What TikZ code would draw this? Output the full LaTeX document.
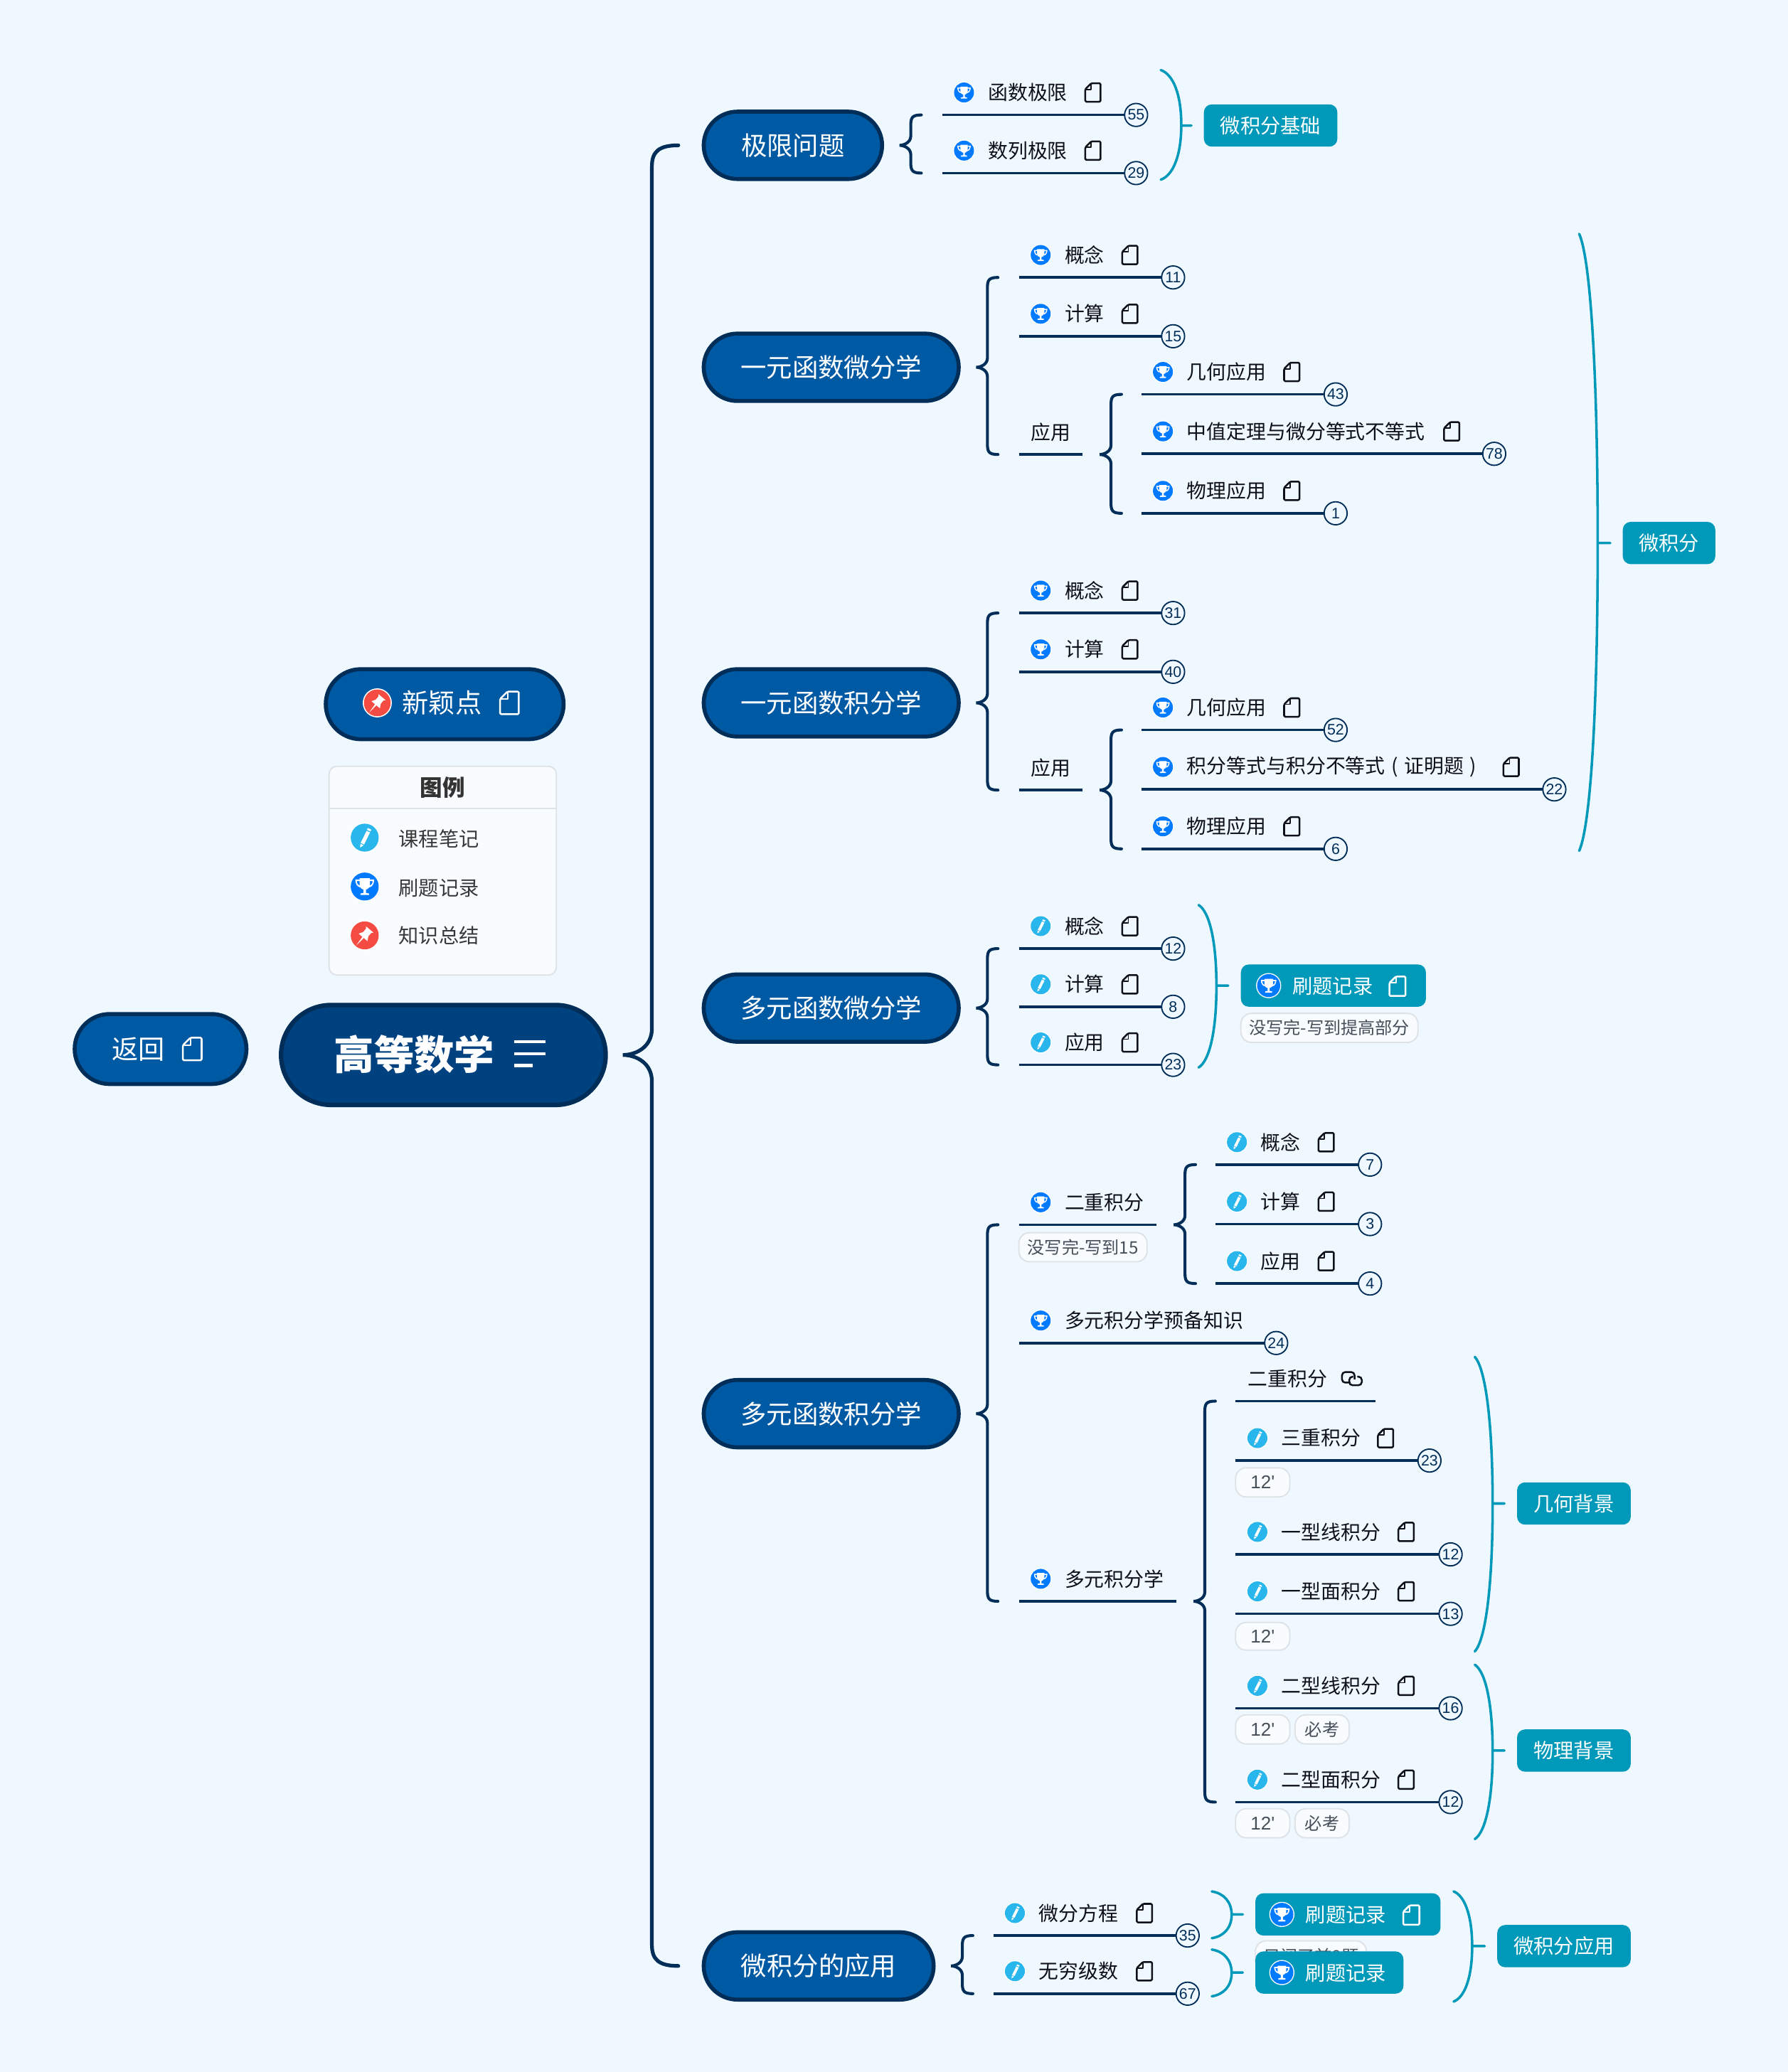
\documentclass[tikz,border=0pt]{standalone}
\usepackage{fontspec}
\setmainfont{Noto Sans CJK SC}
\newfontfamily\latinf{Liberation Sans}
\usetikzlibrary{calc}
\definecolor{bgc}{HTML}{F0F8FF}
\definecolor{navy}{HTML}{002E58}
\definecolor{rootc}{HTML}{004180}
\definecolor{pillc}{HTML}{0059A3}
\definecolor{tealc}{HTML}{0099B9}
\definecolor{trophyc}{HTML}{007AFF}
\definecolor{pencilc}{HTML}{29B6EC}
\definecolor{pinc}{HTML}{F44B42}
\definecolor{tagline}{HTML}{DDE2E6}
\definecolor{tagfill}{HTML}{F9FCFF}
\definecolor{tagtext}{HTML}{454F59}
\definecolor{inkc}{HTML}{0E1116}
\newcommand\fs[1]{\fontsize{#1}{#1}\selectfont}
\tikzset{
  x=1pt,y=-1pt,
  pillbase/.style={draw=navy,fill=pillc,text=white,outer sep=0pt,inner sep=0pt,font=\fs{19.6}},
  itemtext/.style={anchor=west,inner sep=0pt,text=inkc,font=\fs{15}},
  whitetext/.style={inner sep=0pt,text=white,font=\fs{15.2}},
  badgenode/.style={circle,draw=navy,fill=bgc,line width=1pt,minimum size=17.4pt,inner sep=0pt,outer sep=0pt,text=navy,font=\latinf\fs{11.5}},
  itemline/.style={draw=navy,line width=1.9pt},
  bracestyle/.style={draw=navy,line width=2.2pt,line cap=round},
  mainbrace/.style={draw=navy,line width=2.8pt,line cap=round},
  parenstyle/.style={draw=tealc,line width=1.9pt,line cap=round},
  summary/.style={fill=tealc,rounded corners=6pt,text=white,inner sep=0pt,outer sep=0pt,font=\fs{15.2}},
  tagbox/.style={draw=tagline,fill=tagfill,line width=1pt,rounded corners=8pt,inner sep=0pt,outer sep=0pt,text=tagtext,font=\fs{13}},
  noteicon/.pic={
    \draw[line width=1.35pt,line join=round,rounded corners=.8pt] (-5.8,-2.4) -- (-1.2,-7) -- (5.8,-7) -- (5.8,7) -- (-5.8,7) -- cycle;
    \draw[line width=1pt,line join=round] (-1.2,-7) -- (-1.2,-2.4) -- (-5.8,-2.4);
  },
  linkicon/.pic={
    \draw[line width=1.35pt,rounded corners=2.5pt] (-1,3.5) -- (-7.5,3.5) -- (-7.5,-4.5) -- (2,-4.5) -- (2,1);
    \draw[line width=1.35pt,rounded corners=2.5pt] (1,-1) -- (-2,-1) -- (-2,5.5) -- (7.5,5.5) -- (7.5,-1) -- (4,-1);
  },
  trophyicon/.pic={
    \fill[white] (0,0) circle[radius=10];
    \fill[trophyc] (0,0) circle[radius=9.2];
    \fill[white] (-3.4,-5.4) -- (3.4,-5.4) -- (3.4,-1.2) .. controls (3.4,0.8) and (1.8,1.8) .. (0.8,2) -- (0.8,4.2) -- (2.8,4.6) -- (2.8,5.6) -- (-2.8,5.6) -- (-2.8,4.6) -- (-0.8,4.2) -- (-0.8,2) .. controls (-1.8,1.8) and (-3.4,0.8) .. (-3.4,-1.2) -- cycle;
    \fill[white,even odd rule] (-6.2,-4.6) -- (-3,-4.6) -- (-3,-3.6) -- (-5.2,-3.6) .. controls (-5.2,-1.8) and (-4.2,-0.8) .. (-3,-0.4) -- (-3,0.6) .. controls (-5,0.2) and (-6.2,-1.8) .. (-6.2,-4.6) -- cycle;
    \fill[white,even odd rule] (6.2,-4.6) -- (3,-4.6) -- (3,-3.6) -- (5.2,-3.6) .. controls (5.2,-1.8) and (4.2,-0.8) .. (3,-0.4) -- (3,0.6) .. controls (5,0.2) and (6.2,-1.8) .. (6.2,-4.6) -- cycle;
  },
  pencilicon/.pic={
    \fill[white] (0,0) circle[radius=10];
    \fill[pencilc] (0,0) circle[radius=9.2];
    \fill[white] (4.3,-5.3) -- (2,-6.3) -- (1.5,-5.1) -- (3.8,-4.1) -- cycle;
    \fill[white] (3.5,-3.4) -- (1.2,-4.4) -- (-2.7,3.5) -- (-0.4,4.5) -- cycle;
    \fill[white] (-2.9,4.1) -- (-0.8,5) -- (-3,6.6) -- cycle;
  },
  pinicon/.pic={
    \fill[white] (0,0) circle[radius=10];
    \fill[pinc] (0,0) circle[radius=9.2];
    \begin{scope}[rotate=-40,yshift=-0.5pt]
    \fill[white] (-3.8,1.2) -- (3.8,1.2) -- (2.2,-1.6) -- (2.2,-4.4) -- (3.2,-5.6) -- (-3.2,-5.6) -- (-2.2,-4.4) -- (-2.2,-1.6) -- cycle;
    \fill[white] (-0.6,1) -- (0.6,1) -- (0,8.2) -- cycle;
    \end{scope}
  },
}
% id, icon, icon x, text, note x, line y, line start x, line end x, badge
\newcommand\tpc[9]{%
  \pic[scale=.82] at (#3,#6-17) {#2};
  \node[itemtext] (#1-t) at (#3+18,#6-17) {#4};
  \pic[inkc] at (#5,#6-17) {noteicon};
  \coordinate (#1-s) at (#7,#6);
  \node[badgenode] (#1-b) at (#8+8.7,#6) {#9};
  \draw[itemline] (#1-s) -- (#1-b);
}
% as \tpc, without the note icon: id, icon, icon x, text, line y, line start x, line end x, badge
\newcommand\tpcn[8]{%
  \pic[scale=.82] at (#3,#5-17) {#2};
  \node[itemtext] (#1-t) at (#3+18,#5-17) {#4};
  \coordinate (#1-s) at (#6,#5);
  \node[badgenode] (#1-b) at (#7+8.7,#5) {#8};
  \draw[itemline] (#1-s) -- (#1-b);
}
% id, text, text x, line y, line start, line end
\newcommand\plainitem[6]{%
  \node[itemtext] (#1-t) at (#3,#4-17) {#2};
  \coordinate (#1-s) at (#5,#4);
  \coordinate (#1-e) at (#6,#4);
  \draw[itemline] (#1-s) -- (#1-e);
}
% id, icon, icon x, text, line y, line start, line end
\newcommand\plainicon[7]{%
  \pic[scale=.82] at (#3,#5-17) {#2};
  \node[itemtext] (#1-t) at (#3+18,#5-17) {#4};
  \coordinate (#1-s) at (#6,#5);
  \coordinate (#1-e) at (#7,#5);
  \draw[itemline] (#1-s) -- (#1-e);
}
% parent, first, last
\newcommand\curly[3]{%
  \draw[bracestyle] let \p1=(#1),\p2=(#2),\p3=(#3),\n1={\x1+13.2pt},\n2={\n1+8.5pt},\n3={\n1+16.5pt} in
   (\n3,\y2) .. controls (\n2+1pt,\y2) and (\n2,\y2-2pt) .. (\n2,\y2-8pt) -- (\n2,\y1+7pt)
   .. controls (\n2,\y1+2pt) and (\n1+3pt,\y1) .. (\n1,\y1)
   .. controls (\n1+3pt,\y1) and (\n2,\y1-2pt) .. (\n2,\y1-7pt) -- (\n2,\y3+8pt)
   .. controls (\n2,\y3+2pt) and (\n2+1pt,\y3) .. (\n3,\y3);
}
% summary node, x, top y, bottom y, bulge (pt)
\newcommand\paren[5]{%
  \coordinate (#1-pt) at (#2,#3);
  \coordinate (#1-pb) at (#2,#4);
  \draw[parenstyle] let \p1=(#1-pt),\p2=(#1-pb),\p3=(#1.west),\n1={0.5*(\y1+\y2)},\n2={\x1+#5pt},\n3={\y1-\y2} in
   (\p1) .. controls (\x1+0.6*#5pt,\y1-0.04*\n3) and (\n2,\y1-0.22*\n3) .. (\n2,\n1)
   .. controls (\n2,\y2+0.22*\n3) and (\x1+0.6*#5pt,\y2+0.04*\n3) .. (\p2)
   (\n2,\y3) -- (\x3-9.5pt,\y3);
}
\newcommand\pillfill{pillc}
\newcommand\pill[7]{% id, x0, x1, y0, y1, lw, text
  \node[pillbase,fill=\pillfill,line width=#6pt,minimum width={#3-#2-#6},minimum height={#5-#4-#6},rounded corners={(#5-#4-#6)/2}] (#1) at ({(#2+#3)/2},{(#4+#5)/2}) {#7};
}
\newcommand\sumbox[6]{% id, x0, x1, y0, y1, text
  \node[summary,minimum width={#3-#2},minimum height={#5-#4}] (#1) at ({(#2+#3)/2},{(#4+#5)/2}) {#6};
}
\newcommand\tagn[6]{% id, x0, x1, y0, y1, text
  \node[tagbox,minimum width={#3-#2},minimum height={#5-#4}] (#1) at ({(#2+#3)/2},{(#4+#5)/2}) {#6};
}
\newcommand\tw{{\latinf\fs{14}12'}}
\begin{document}
\begin{tikzpicture}
\useasboundingbox (0,0) rectangle (1353,1568.3);
\fill[bgc] (0,0) rectangle (1353,1568.3);

% root and side pills
\renewcommand\pillfill{rootc}
\pill{root}{211}{460}{759}{838}{3.4}{}
\renewcommand\pillfill{pillc}
\node[inner sep=0pt,text=white,font=\fs{30.4}\bfseries] (roott) at (313.5,798) {高等数学};
\coordinate (rl1a) at (389,788.5); \coordinate (rl1b) at (413,788.5);
\coordinate (rl2a) at (389,797.5); \coordinate (rl2b) at (413,797.5);
\coordinate (rl3a) at (389,806.5); \coordinate (rl3b) at (403,806.5);
\draw[white,line width=2.4pt] (rl1a) -- (rl1b) (rl2a) -- (rl2b) (rl3a) -- (rl3b);

\pill{back}{55}{188}{766}{822}{3}{}
\node[inner sep=0pt,text=white,font=\fs{20}] (backt) at (104.5,794) {返回};
\pic[white,scale=1.22] at (145.5,794) {noteicon};

\pill{newp}{245}{428}{505}{561}{3}{}
\pic[scale=1.1] at (285.5,532) {pinicon};
\node[inner sep=0pt,text=white,font=\fs{20}] (newt) at (334.5,532) {新颖点};
\pic[white,scale=1.22] at (385.5,532) {noteicon};

% legend
\node[draw=tagline,fill=tagfill,line width=1pt,rounded corners=6pt,minimum width=172pt,minimum height=158pt,inner sep=0pt] (legend) at (335,659) {};
\coordinate (lda) at (249,612); \coordinate (ldb) at (421,612);
\draw[tagline,line width=1pt] (lda) -- (ldb);
\node[inner sep=0pt,text=black!80,font=\fs{17}\bfseries] (legt) at (335,596) {图例};
\pic[scale=1.15] at (276,634) {pencilicon};
\pic[scale=1.15] at (276,671) {trophyicon};
\pic[scale=1.15] at (276,708) {pinicon};
\node[itemtext,text=black!78,font=\fs{15.2}] (l1) at (301.5,635) {课程笔记};
\node[itemtext,text=black!78,font=\fs{15.2}] (l2) at (301.5,672) {刷题记录};
\node[itemtext,text=black!78,font=\fs{15.2}] (l3) at (301.5,708) {知识总结};

% main topics
\pill{t1}{531}{669}{83}{137}{3}{极限问题}
\pill{t2}{531}{727}{251}{305}{3}{一元函数微分学}
\pill{t3}{531}{727}{505}{559}{3}{一元函数积分学}
\pill{t4}{531}{727}{736}{790}{3}{多元函数微分学}
\pill{t5}{531}{727}{1043}{1097}{3}{多元函数积分学}
\pill{t6}{531}{708}{1461}{1515}{3}{微积分的应用}

% main brace
\draw[mainbrace] let \p1=(root.east),\p2=(t1.west),\p3=(t6.west),\n1={\x1+13pt},\n2={\n1+22pt},\n3={\n1+42pt} in
  (\n3,\y2) .. controls (\n2+5pt,\y2) and (\n2,\y2-5pt) .. (\n2,\y2-16pt) -- (\n2,\y1+20pt)
  .. controls (\n2,\y1+6pt) and (\n1+10pt,\y1) .. (\n1,\y1)
  .. controls (\n1+10pt,\y1) and (\n2,\y1-6pt) .. (\n2,\y1-20pt) -- (\n2,\y3+16pt)
  .. controls (\n2,\y3+5pt) and (\n2+5pt,\y3) .. (\n3,\y3);

% limit topic
\tpc{a1}{trophyicon}{729.5}{函数极限}{827}{87}{713}{851}{55}
\tpc{a2}{trophyicon}{729.5}{数列极限}{827}{131}{713}{851}{29}
\curly{t1.east}{a1-s}{a2-s}
\sumbox{sa}{911}{1012}{79}{111}{微积分基础}
\paren{sa}{878.4}{53}{136}{15.5}

% differential
\tpc{b1}{trophyicon}{787.5}{概念}{855}{210}{771}{879}{11}
\tpc{b2}{trophyicon}{787.5}{计算}{855}{254.5}{771}{879}{15}
\plainitem{b3}{应用}{780}{344}{771}{819}
\curly{t2.east}{b1-s}{b3-s}
\tpc{b4}{trophyicon}{880}{几何应用}{977.5}{298.5}{864}{1002}{43}
\tpc{b5}{trophyicon}{880}{中值定理与微分等式不等式}{1098.5}{343.5}{864}{1122}{78}
\tpc{b6}{trophyicon}{880}{物理应用}{977.5}{388.5}{864}{1002}{1}
\curly{b3-e}{b4-s}{b6-s}

% integral
\tpc{c1}{trophyicon}{787.5}{概念}{855}{464}{771}{879}{31}
\tpc{c2}{trophyicon}{787.5}{计算}{855}{508.5}{771}{879}{40}
\plainitem{c3}{应用}{780}{598}{771}{819}
\curly{t3.east}{c1-s}{c3-s}
\tpc{c4}{trophyicon}{880}{几何应用}{977.5}{552.5}{864}{1002}{52}
\tpc{c5}{trophyicon}{880}{积分等式与积分不等式\hspace{5pt}(\hspace{4.5pt}证明题\hspace{4.5pt})}{1143.5}{597.5}{864}{1167.5}{22}
\tpc{c6}{trophyicon}{880}{物理应用}{977.5}{642.5}{864}{1002}{6}
\curly{c3-e}{c4-s}{c6-s}
\sumbox{sb}{1228}{1298}{395}{427}{微积分}
\paren{sb}{1195}{177}{644}{14}

% multi differential
\tpc{d1}{pencilicon}{787.5}{概念}{855}{718}{771}{879}{12}
\tpc{d2}{pencilicon}{787.5}{计算}{855}{762}{771}{879}{8}
\tpc{d3}{pencilicon}{787.5}{应用}{855}{806}{771}{879}{23}
\curly{t4.east}{d1-s}{d3-s}
\sumbox{sc}{939}{1079}{730}{762}{}
\pic[scale=.95] at (960,746) {trophyicon};
\node[whitetext] (sct) at (1008.5,746.5) {刷题记录};
\pic[white,scale=1.05] at (1057.5,746.5) {noteicon};
\paren{sc}{907}{685}{808}{13.5}
\tagn{tc}{939}{1073}{767}{789}{没写完-写到提高部分}

% multi integral
\plainicon{e1}{trophyicon}{787.5}{二重积分}{927}{771}{875}
\tagn{te1}{771}{868}{933}{955}{没写完-写到15}
\tpc{e2}{pencilicon}{936}{概念}{1003.5}{881.5}{920}{1028}{7}
\tpc{e3}{pencilicon}{936}{计算}{1003.5}{926.5}{920}{1028}{3}
\tpc{e4}{pencilicon}{936}{应用}{1003.5}{971.5}{920}{1028}{4}
\curly{e1-e}{e2-s}{e4-s}
\tpcn{e5}{trophyicon}{787.5}{多元积分学预备知识}{1016.5}{771}{957}{24}
\plainicon{e6}{trophyicon}{787.5}{多元积分学}{1212}{771}{890}
\curly{t5.east}{e1-s}{e6-s}
\plainitem{f1}{二重积分}{944}{1060.5}{935}{1041}
\pic[inkc] at (1023,1043) {linkicon};
\tpc{f2}{pencilicon}{951.5}{三重积分}{1048.5}{1105.5}{935}{1073}{23}
\tagn{tf2}{935}{976}{1111}{1133}{\tw}
\tpc{f3}{pencilicon}{951.5}{一型线积分}{1064}{1176.5}{935}{1089}{12}
\tpc{f4}{pencilicon}{951.5}{一型面积分}{1064}{1221.5}{935}{1089}{13}
\tagn{tf4}{935}{976}{1228}{1249}{\tw}
\tpc{f5}{pencilicon}{951.5}{二型线积分}{1064}{1293}{935}{1089}{16}
\tagn{tf5a}{935}{976}{1298}{1320}{\tw}
\tagn{tf5b}{980}{1021}{1298}{1320}{必考}
\tpc{f6}{pencilicon}{951.5}{二型面积分}{1064}{1364}{935}{1089}{12}
\tagn{tf6a}{935}{976}{1369}{1391}{\tw}
\tagn{tf6b}{980}{1021}{1369}{1391}{必考}
\curly{e6-e}{f1-s}{f6-s}
\sumbox{sd}{1148}{1234}{1122}{1154}{几何背景}
\paren{sd}{1116}{1027}{1250}{13.5}
\sumbox{se}{1148}{1234}{1309}{1341}{物理背景}
\paren{se}{1116}{1260}{1392}{13.5}

% application
\tpc{g1}{pencilicon}{768}{微分方程}{866}{1465}{752}{890}{35}
\tpc{g2}{pencilicon}{768}{无穷级数}{866}{1509}{752}{890}{67}
\curly{t6.east}{g1-s}{g2-s}
\tagn{tg1}{950}{1034}{1469}{1492}{只阅了前8题}
\sumbox{sf}{950}{1090}{1433}{1465}{}
\pic[scale=.95] at (970,1449) {trophyicon};
\node[whitetext] (sft) at (1018.5,1449.5) {刷题记录};
\pic[white,scale=1.05] at (1068,1449.5) {noteicon};
\paren{sf}{917}{1431.6}{1467}{15}
\sumbox{sg}{950}{1062}{1477}{1509}{}
\pic[scale=.95] at (970,1493) {trophyicon};
\node[whitetext] (sgt) at (1018.5,1493.5) {刷题记录};
\paren{sg}{917}{1475.6}{1511}{15}
\sumbox{sh}{1133}{1234}{1457}{1489}{微积分应用}
\paren{sh}{1100}{1431.6}{1515}{14}
\end{tikzpicture}
\end{document}
